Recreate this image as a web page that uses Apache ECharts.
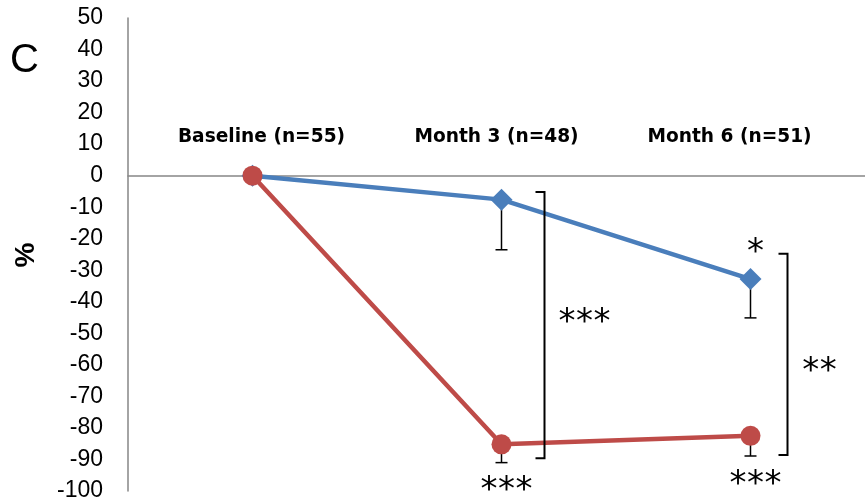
<!DOCTYPE html>
<html>
<head>
<meta charset="utf-8">
<script src="https://cdn.jsdelivr.net/npm/echarts@6/dist/echarts.min.js"></script>
<style>
  html, body { margin: 0; padding: 0; background: #ffffff; }
  #chart { width: 865px; height: 502px; }
</style>
</head>
<body>
<div id="chart"></div>
<script>
// Time points
const categories = ['Baseline (n=55)', 'Month 3 (n=48)', 'Month 6 (n=51)'];

// Mean change from baseline (%)
const blueValues = [0, -7.6, -32.8];
const redValues = [0, -85.2, -82.5];

// Lower end of the one-sided error bars (%)
const blueErrLow = [null, -23.5, -45.1];
const redErrLow = [null, -91.0, -88.9];

// Significance vs. baseline
const blueMarks = ['', '', '*'];
const redMarks = ['', '***', '***'];

// Between-group comparison brackets
const bracketTop = [null, -5.2, -24.8];
const bracketBottom = [null, -89.6, -88.6];
const bracketMarks = ['', '***', '**'];
const bracketMarkAt = [null, -45.1, -60.6];

// Value axis
const yMin = -100;
const yMax = 50;
const yStep = 10;

const BLUE = '#4a7ebb';
const RED = '#be4b48';
const TICK_FONT = '"Liberation Sans", Arial, sans-serif';
const CAT_FONT = '"DejaVu Sans", sans-serif';
const STAR_FONT = '"DejaVu Sans", sans-serif';

// Draws a row of asterisks centred on (cx, cy)
function starRow(str, cx, cy) {
  const gap = 17.5;
  const n = str.length;
  const kids = [];
  for (let i = 0; i < n; i++) {
    kids.push({
      type: 'text',
      style: {
        text: '*',
        x: cx + (i - (n - 1) / 2) * gap,
        y: cy,
        align: 'center',
        verticalAlign: 'middle',
        font: '34px ' + STAR_FONT,
        fill: '#000'
      }
    });
  }
  return kids;
}

function errorData(vals, lows) {
  const out = [];
  vals.forEach((v, i) => {
    if (lows[i] !== null) out.push([i, v, lows[i]]);
  });
  return out;
}

function errorRender(mode) {
  return function (params, api) {
    const i = api.value(0);
    const p = api.coord([i, api.value(1)]);
    const q = api.coord([i, api.value(2)]);
    const cap = 6;
    const kids = [
      { type: 'line', shape: { x1: p[0], y1: p[1], x2: q[0], y2: q[1] }, style: { stroke: '#000', lineWidth: 1.5 } },
      { type: 'line', shape: { x1: q[0] - cap, y1: q[1], x2: q[0] + cap, y2: q[1] }, style: { stroke: '#000', lineWidth: 1.5 } }
    ];
    const mark = mode === 'blue' ? blueMarks[i] : redMarks[i];
    if (mark) {
      if (mode === 'blue') {
        kids.push.apply(kids, starRow(mark, p[0] + 5, p[1] - 26));
      } else {
        kids.push.apply(kids, starRow(mark, q[0] + 5, q[1] + 29));
      }
    }
    return { type: 'group', children: kids };
  };
}

const bracketData = [];
categories.forEach((c, i) => {
  if (bracketTop[i] !== null) bracketData.push([i, bracketTop[i], bracketBottom[i], bracketMarkAt[i]]);
});

// Category labels sit above the zero line
const labelShift = [9, -5, -21];

const chart = echarts.init(document.getElementById('chart'), null, { renderer: 'canvas' });

chart.setOption({
  animation: false,
  backgroundColor: '#ffffff',
  grid: { left: 128, top: 18, width: 747, height: 473, containLabel: false, outerBoundsMode: 'none' },
  xAxis: {
    type: 'category',
    data: categories,
    boundaryGap: true,
    axisLine: { onZero: true, lineStyle: { color: '#868686', width: 1.5 } },
    axisTick: { show: false },
    axisLabel: { show: false },
    splitLine: { show: false }
  },
  yAxis: {
    type: 'value',
    min: yMin,
    max: yMax,
    interval: yStep,
    axisLine: { show: true, lineStyle: { color: '#868686', width: 1.5 } },
    axisTick: { show: false },
    splitLine: { show: false },
    axisLabel: { margin: 25, fontFamily: TICK_FONT, fontSize: 23, color: '#000', padding: [3, 0, 0, 0] }
  },
  graphic: [
    { type: 'text', left: 10, top: 41, style: { text: 'C', font: '40px ' + TICK_FONT, fill: '#000' } },
    {
      type: 'text', x: 26, y: 255, rotation: Math.PI / 2,
      style: { text: '%', font: 'bold 28px ' + TICK_FONT, fill: '#000', align: 'center', verticalAlign: 'middle' }
    }
  ],
  series: [
    {
      // category labels, anchored to the zero line
      type: 'custom',
      z: 2,
      silent: true,
      data: categories.map((c, i) => [i, 0]),
      renderItem: function (params, api) {
        const i = api.value(0);
        const p = api.coord([i, api.value(1)]);
        return {
          type: 'text',
          style: {
            text: categories[i],
            x: p[0] + labelShift[i],
            y: p[1] - 38,
            align: 'center',
            verticalAlign: 'middle',
            font: 'bold 18.6px ' + CAT_FONT,
            fill: '#000'
          }
        };
      }
    },
    {
      type: 'custom',
      z: 1,
      renderItem: errorRender('blue'),
      data: errorData(blueValues, blueErrLow),
      silent: true
    },
    {
      type: 'custom',
      z: 1,
      renderItem: errorRender('red'),
      data: errorData(redValues, redErrLow),
      silent: true
    },
    {
      type: 'line',
      z: 3,
      data: blueValues,
      symbol: 'diamond',
      symbolSize: 22,
      lineStyle: { color: BLUE, width: 4.5 },
      itemStyle: { color: BLUE },
      silent: true
    },
    {
      type: 'line',
      z: 4,
      data: redValues,
      symbol: 'circle',
      symbolSize: 20,
      lineStyle: { color: RED, width: 4.5 },
      itemStyle: { color: RED },
      silent: true
    },
    {
      type: 'custom',
      z: 5,
      silent: true,
      data: bracketData,
      renderItem: function (params, api) {
        const i = api.value(0);
        const dx = i === 1 ? 43 : 37;
        const top = api.coord([i, api.value(1)]);
        const bot = api.coord([i, api.value(2)]);
        const mid = api.coord([i, api.value(3)]);
        const x = top[0] + dx;
        const tick = 9;
        const kids = [{
          type: 'polyline',
          shape: { points: [[x - tick, top[1]], [x, top[1]], [x, bot[1]], [x - tick, bot[1]]] },
          style: { stroke: '#000', lineWidth: 2, fill: null }
        }];
        const labelDx = i === 1 ? 40 : 32;
        kids.push.apply(kids, starRow(bracketMarks[i], x + labelDx, mid[1] + 5));
        return { type: 'group', children: kids };
      }
    }
  ]
});
</script>
</body>
</html>
